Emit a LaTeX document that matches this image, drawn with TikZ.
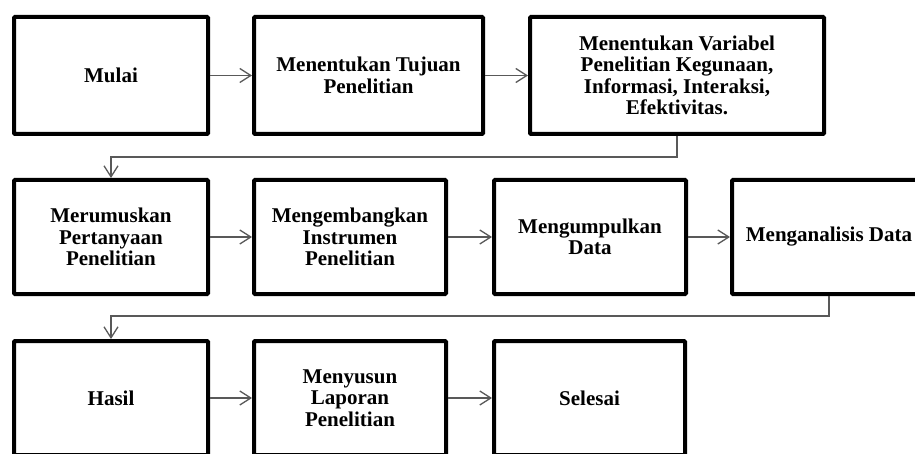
\documentclass[tikz,border=0pt]{standalone}
\usepackage{fontspec}
\setmainfont{Liberation Serif}
\usetikzlibrary{arrows.meta}
\begin{document}
\begin{tikzpicture}[x=1pt,y=-1pt,
  stepbox/.style={draw=black, line width=4pt, rounded corners=1pt, fill=white,
    inner sep=0pt, align=center,
    font=\fontsize{21}{21.5}\selectfont\bfseries},
  conn/.style={draw=black!65, line width=1.3pt,
    -{Straight Barb[length=11pt,width=14pt,line width=1.3pt]}},
  plain/.style={draw=black!65, line width=1.3pt}]
\path[use as bounding box, fill=white] (0,0) rectangle (915,454);
\begin{scope}
\clip (0,0) rectangle (915,454);
% row 1
\node[stepbox, minimum width=194pt, minimum height=117pt] (b1) at (111,75.5) {Mulai};
\node[stepbox, minimum width=229pt, minimum height=117pt] (b2) at (368.5,75.5) {Menentukan Tujuan\\Penelitian};
\node[stepbox, minimum width=294pt, minimum height=117pt] (b3) at (677,75.5) {Menentukan Variabel\\Penelitian Kegunaan,\\Informasi, Interaksi,\\Efektivitas.};
% row 2
\node[stepbox, minimum width=194pt, minimum height=114pt] (c1) at (111,237) {Merumuskan\\Pertanyaan\\Penelitian};
\node[stepbox, minimum width=192pt, minimum height=114pt] (c2) at (350,237) {Mengembangkan\\Instrumen\\Penelitian};
\node[stepbox, minimum width=192pt, minimum height=114pt] (c3) at (590,237) {Mengumpulkan\\Data};
\node[stepbox, minimum width=194pt, minimum height=114pt] (c4) at (829,237) {Menganalisis Data};
% row 3
\node[stepbox, minimum width=194pt, minimum height=114pt] (d1) at (111,398) {Hasil};
\node[stepbox, minimum width=192pt, minimum height=114pt] (d2) at (350,398) {Menyusun\\Laporan\\Penelitian};
\node[stepbox, minimum width=191pt, minimum height=114pt] (d3) at (589.5,398) {Selesai};
% connectors
\draw[conn] (b1.east) -- (b2.west);
\draw[conn] (b2.east) -- (b3.west);
\draw[conn] (b3.south) -- ++(0,21) -| (c1.north);
\draw[conn] (c1.east) -- (c2.west);
\draw[conn] (c2.east) -- (c3.west);
\draw[conn] (c3.east) -- (c4.west);
\draw[conn] (c4.south) -- ++(0,20) -| (d1.north);
\draw[conn] (d1.east) -- (d2.west);
\draw[conn] (d2.east) -- (d3.west);
\end{scope}
\end{tikzpicture}
\end{document}
